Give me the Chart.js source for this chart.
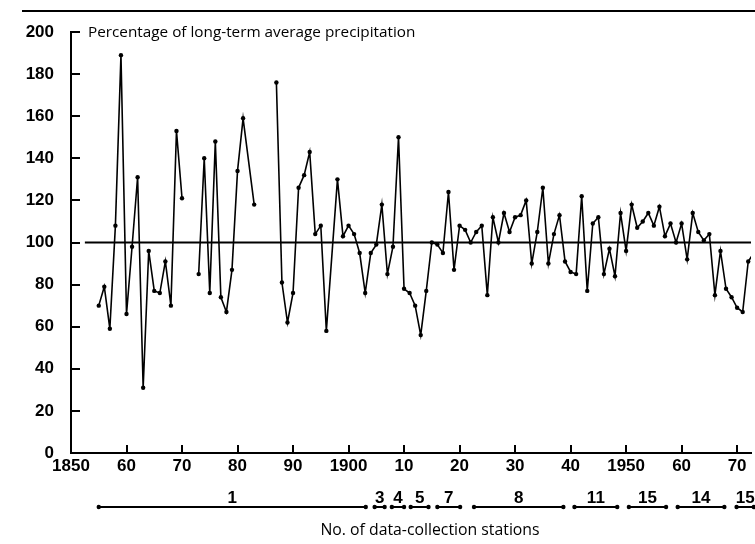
<!DOCTYPE html>
<html><head><meta charset="utf-8">
<style>html,body{margin:0;padding:0;background:#fff;}canvas{display:block;}</style>
<script src="https://cdn.jsdelivr.net/npm/chart.js@4.4.1/dist/chart.umd.min.js"></script>
</head><body>
<canvas id="c" width="755" height="544"></canvas>
<script>
// ---- data (percentage of long-term average precipitation) ----
const years = [
  1855,1856,1857,1858,1859,1860,1861,1862,1863,1864,1865,1866,1867,1868,1869,1870,
  1871,
  1873,1874,1875,1876,1877,1878,1879,1880,1881,1883,
  1884,
  1887,1888,1889,1890,1891,1892,1893,1894,1895,1896,1898,1899,1900,
  1901,1902,1903,1904,1905,1906,1907,1908,1909,1910,
  1911,1912,1913,1914,1915,1916,1917,1918,1919,1920,
  1921,1922,1923,1924,1925,1926,1927,1928,1929,1930,
  1931,1932,1933,1934,1935,1936,1937,1938,1939,1940,
  1941,1942,1943,1944,1945,1946,1947,1948,1949,1950,
  1951,1952,1953,1954,1955,1956,1957,1958,1959,1960,
  1961,1962,1963,1964,1965,1966,1967,1968,1969,1970,
  1971,1972,1973
];
const precip = [
  70,79,59,108,189,66,98,131,31,96,77,76,91,70,153,121,
  null,
  85,140,76,148,74,67,87,134,159,118,
  null,
  176,81,62,76,126,132,143,104,108,58,130,103,108,
  104,95,76,95,99,118,85,98,150,78,
  76,70,56,77,100,99,95,124,87,108,
  106,100,105,108,75,112,100,114,105,112,
  113,120,90,105,126,90,104,113,91,86,
  85,122,77,109,112,85,97,84,114,96,
  118,107,110,114,108,117,103,109,100,109,
  92,114,105,101,104,75,96,78,74,69,
  67,91,95
];
const refYears = [1852.5, 1976];
const refValues = [100, 100];

const xTickValues = [1850,1860,1870,1880,1890,1900,1910,1920,1930,1940,1950,1960,1970];
const xTickLabels = ['1850','60','70','80','90','1900','10','20','30','40','1950','60','70'];
const yTickValues = [0,20,40,60,80,100,120,140,160,180,200];

const stationCounts = ['1','3','4','5','7','8','11','15','14','15'];
const stationFrom   = [1855, 1904.7, 1907.8, 1911.2, 1916.0, 1922.6, 1940.7, 1950.5, 1959.3, 1969.9];
const stationTo     = [1903.1, 1906.5, 1910.0, 1914.4, 1920.1, 1938.7, 1948.4, 1957.2, 1967.7, 1973.0];

const titleText = 'Percentage of long-term average precipitation';
const captionText = 'No. of data-collection stations';

// ---- build ----
const mainData = years.map((yr, i) => ({x: yr, y: precip[i]}));
const refData = refYears.map((yr, i) => ({x: yr, y: refValues[i]}));

const tickFont = {family: '"Liberation Sans", Arial, sans-serif', size: 17, weight: 'bold'};

const deco = {
  id: 'deco',
  afterDraw(chart) {
    const {ctx, chartArea: a, scales: {x, y}} = chart;
    ctx.save();
    ctx.strokeStyle = '#000';
    ctx.fillStyle = '#000';
    ctx.lineWidth = 2;
    // top rule
    ctx.beginPath(); ctx.moveTo(22, 11); ctx.lineTo(755, 11); ctx.stroke();
    // inward y ticks
    yTickValues.forEach(v => {
      if (v === 0) return;
      const py = Math.round(y.getPixelForValue(v));
      ctx.beginPath(); ctx.moveTo(a.left, py); ctx.lineTo(a.left + 9, py); ctx.stroke();
    });
    // inward x ticks
    xTickValues.forEach(v => {
      if (v === 1850) return;
      const px = Math.round(x.getPixelForValue(v));
      ctx.beginPath(); ctx.moveTo(px, a.bottom); ctx.lineTo(px, a.bottom - 8); ctx.stroke();
    });
    // axis title inside plot
    ctx.font = '15.3px "Open Sans", sans-serif';
    ctx.textAlign = 'left';
    ctx.textBaseline = 'middle';
    ctx.fillText(titleText, a.left + 17, y.getPixelForValue(200) + 1);
    // station groups
    const barY = a.bottom + 54;
    ctx.lineWidth = 2;
    stationCounts.forEach((lab, i) => {
      const x1 = x.getPixelForValue(stationFrom[i]);
      const x2 = x.getPixelForValue(stationTo[i]);
      ctx.beginPath(); ctx.moveTo(x1, barY); ctx.lineTo(x2, barY); ctx.stroke();
      [x1, x2].forEach(px => { ctx.beginPath(); ctx.arc(px, barY, 2.2, 0, Math.PI * 2); ctx.fill(); });
      ctx.font = 'bold 17px "Liberation Sans", Arial, sans-serif';
      ctx.textAlign = 'center';
      ctx.textBaseline = 'middle';
      ctx.fillText(lab, (x1 + x2) / 2, barY - 9);
    });
    // caption
    ctx.font = '15.8px "Open Sans", sans-serif';
    ctx.textAlign = 'center';
    ctx.textBaseline = 'middle';
    ctx.fillText(captionText, 430, a.bottom + 77);
    ctx.restore();
  }
};

new Chart(document.getElementById('c'), {
  type: 'line',
  data: {
    datasets: [
      {
        data: mainData,
        borderColor: '#000',
        borderWidth: 1.6,
        pointRadius: 2.2,
        pointBackgroundColor: '#000',
        pointBorderWidth: 0,
        tension: 0,
        spanGaps: false
      },
      {
        data: refData,
        borderColor: '#000',
        borderWidth: 2.2,
        pointRadius: 0,
        tension: 0
      }
    ]
  },
  options: {
    responsive: false,
    animation: false,
    devicePixelRatio: 1,
    layout: {padding: {top: 32, right: 0, left: 0, bottom: 0}},
    plugins: {legend: {display: false}, tooltip: {enabled: false}},
    scales: {
      x: {
        type: 'linear',
        min: 1850,
        max: 1972.5,
        grid: {display: false, drawTicks: false},
        border: {display: true, color: '#000', width: 2},
        ticks: {
          stepSize: 10,
          includeBounds: false,
          autoSkip: false,
          maxRotation: 0,
          padding: 3,
          color: '#000',
          font: tickFont,
          callback: v => { const i = xTickValues.indexOf(v); return i >= 0 ? xTickLabels[i] : ''; }
        },
        afterFit: s => { s.height = 91; s.paddingLeft = 0; s.paddingRight = 0; }
      },
      y: {
        min: 0,
        max: 200,
        grid: {display: false, drawTicks: false},
        border: {display: true, color: '#000', width: 2},
        ticks: {
          stepSize: 20,
          padding: 17,
          color: '#000',
          font: tickFont
        },
        afterFit: s => { s.width = 71; }
      }
    }
  },
  plugins: [deco]
});
</script>
</body></html>
